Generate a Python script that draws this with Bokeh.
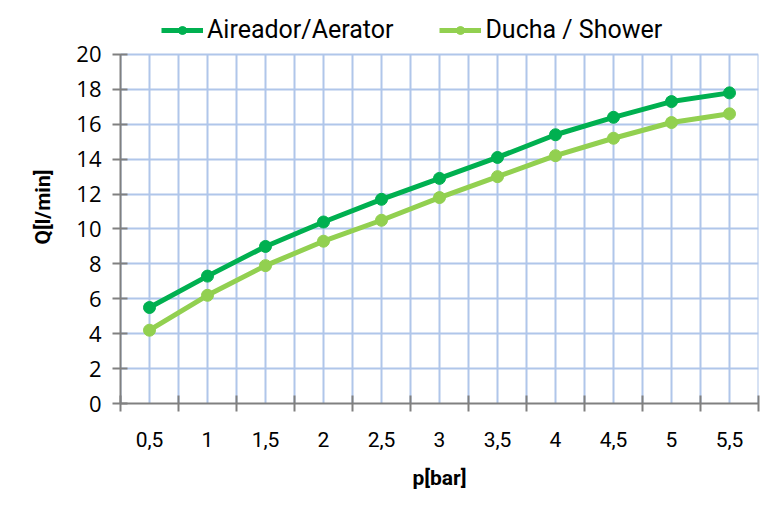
from bokeh.plotting import figure
from bokeh.models import FixedTicker, Legend, LegendItem, Range1d, CustomJSTickFormatter
from bokeh.embed import file_html
from bokeh.resources import INLINE

categories = ["0,5", "1", "1,5", "2", "2,5", "3", "3,5", "4", "4,5", "5", "5,5"]
aireador = [5.5, 7.3, 9.0, 10.4, 11.7, 12.9, 14.1, 15.4, 16.4, 17.3, 17.8]
ducha = [4.2, 6.2, 7.9, 9.3, 10.5, 11.8, 13.0, 14.2, 15.2, 16.1, 16.6]
y_ticks = [0, 2, 4, 6, 8, 10, 12, 14, 16, 18, 20]

x = [i + 0.5 for i in range(len(categories))]
bounds = list(range(len(categories) + 1))
y_min, y_max = y_ticks[0], y_ticks[-1]

NARROW = "Roboto"
GRID = "#b0c6ea"

# extra room above y_max inside the frame holds the legend
p = figure(width=761, height=502, output_backend="svg", toolbar_location=None,
           x_range=Range1d(0, len(categories)), y_range=Range1d(y_min, 22.52),
           min_border_left=120, min_border_right=3, min_border_top=10, min_border_bottom=99)
p.outline_line_color = None

# grid: horizontal via ygrid, vertical as segments limited to the data area
p.xgrid.grid_line_color = None
p.ygrid.ticker = FixedTicker(ticks=y_ticks)
p.ygrid.grid_line_color = GRID
p.ygrid.grid_line_width = 2
vx = sorted(x + bounds)
p.segment(x0=vx, y0=[y_min] * len(vx), x1=vx, y1=[y_max] * len(vx),
          line_color=GRID, line_width=2)

# x axis
p.xaxis.ticker = FixedTicker(ticks=x, minor_ticks=bounds)
p.xaxis.formatter = CustomJSTickFormatter(args=dict(labels=categories),
                                          code="return labels[Math.floor(tick)] || '';")
p.xaxis.major_tick_in = 0
p.xaxis.major_tick_out = 0
p.xaxis.minor_tick_in = 8
p.xaxis.minor_tick_out = 8
p.xaxis.minor_tick_line_color = "#808080"
p.xaxis.minor_tick_line_width = 2
p.xaxis.axis_line_color = "#808080"
p.xaxis.axis_line_width = 2
p.xaxis.major_label_standoff = 20
p.xaxis.major_label_text_font = NARROW
p.xaxis.major_label_text_font_size = "21px"
p.xaxis.major_label_text_color = "#000000"
p.xaxis.axis_label = "p[bar]"
p.xaxis.axis_label_text_font = NARROW
p.xaxis.axis_label_text_font_style = "bold"
p.xaxis.axis_label_text_font_size = "21px"
p.xaxis.axis_label_text_color = "#000000"
p.xaxis.axis_label_standoff = 16

# y axis
p.yaxis.ticker = FixedTicker(ticks=y_ticks)
p.yaxis.bounds = (y_min, y_max)
p.yaxis.minor_tick_line_color = None
p.yaxis.major_tick_in = 7
p.yaxis.major_tick_out = 8
p.yaxis.major_tick_line_color = "#808080"
p.yaxis.major_tick_line_width = 2
p.yaxis.axis_line_color = "#808080"
p.yaxis.axis_line_width = 2
p.yaxis.major_label_standoff = 11
p.yaxis.major_label_text_font = "Open Sans"
p.yaxis.major_label_text_font_size = "22px"
p.yaxis.major_label_text_color = "#000000"
p.yaxis.axis_label = "Q[l/min]"
p.yaxis.axis_label_text_font = NARROW
p.yaxis.axis_label_text_font_style = "bold"
p.yaxis.axis_label_text_font_size = "21px"
p.yaxis.axis_label_text_color = "#000000"
p.yaxis.axis_label_standoff = 18

l1 = p.line(x, aireador, line_color="#00b050", line_width=5)
s1 = p.scatter(x, aireador, size=12, fill_color="#00b050", line_color="#00b050")
l2 = p.line(x, ducha, line_color="#92d050", line_width=5)
s2 = p.scatter(x, ducha, size=12, fill_color="#92d050", line_color="#92d050")

legend = Legend(items=[LegendItem(label="Aireador/Aerator", renderers=[l1, s1]),
                       LegendItem(label="Ducha / Shower", renderers=[l2, s2])],
                orientation="horizontal", location=(41, 359),
                label_text_font=NARROW, label_text_font_size="25px",
                label_text_color="#000000",
                glyph_width=42, label_standoff=4, spacing=46,
                border_line_color=None, background_fill_alpha=0,
                padding=2, margin=0)
p.add_layout(legend)

open("out.html", "w").write(file_html(p, INLINE))
